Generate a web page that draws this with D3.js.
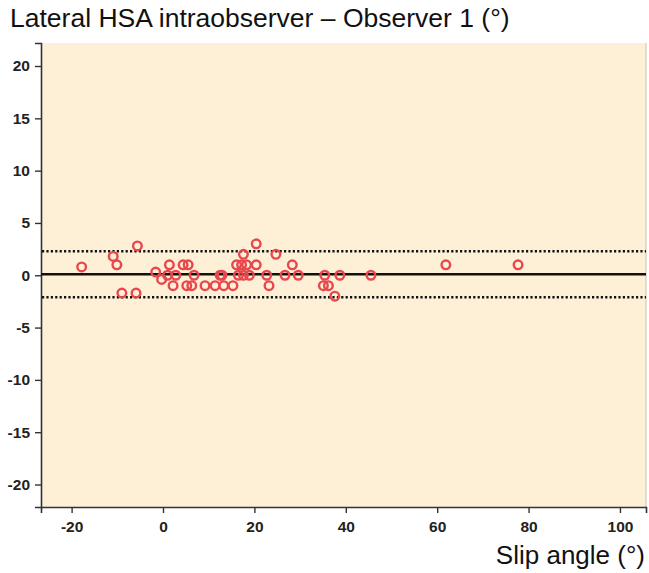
<!DOCTYPE html>
<html>
<head>
<meta charset="utf-8">
<script src="https://cdn.jsdelivr.net/npm/d3@7"></script>
<style>
  body { margin: 0; background: #fff; }
  svg { display: block; }
</style>
</head>
<body>
<div id="chart"></div>
<script>
// slip angle (x) vs difference between measurements (y)
var slipAngle = [-17.8, -10.9, -10.1, -5.6, -9.0, -5.9, -1.6, -0.3, 1.4, 1.0, 2.8, 2.2,
  4.4, 5.5, 5.2, 6.3, 6.8, 9.2, 11.4, 12.5, 12.9, 13.3, 15.3, 16.1, 17.2, 18.3,
  16.5, 17.6, 18.9, 17.6, 20.4, 20.4, 22.7, 23.2, 24.7, 26.7, 28.3, 29.6, 35.4,
  35.1, 36.2, 37.6, 38.7, 45.5, 61.9, 77.7];
var difference = [0.8, 1.8, 1.0, 2.8, -1.7, -1.7, 0.3, -0.4, 1.0, 0.0, 0.0, -1.0,
  1.0, 1.0, -1.0, -1.0, 0.0, -1.0, -1.0, 0.0, 0.0, -1.0, -1.0, 1.0, 1.0, 1.0,
  0.0, 0.0, 0.0, 2.0, 3.0, 1.0, 0.0, -1.0, 2.0, 0.0, 1.0, 0.0, 0.0,
  -1.0, -1.0, -2.0, 0.0, 0.0, 1.0, 1.0];

var meanDiff = 0.1;
var upperLimit = 2.3;
var lowerLimit = -2.1;

var xTicks = [-20, 0, 20, 40, 60, 80, 100];
var yTicks = [-20, -15, -10, -5, 0, 5, 10, 15, 20];

var width = 649, height = 573;
var margin = {top: 43, right: 3, bottom: 66, left: 41};

var svg = d3.select("#chart").append("svg")
  .attr("width", width)
  .attr("height", height)
  .style("font-family", "Liberation Sans, Arial, sans-serif");

var x = d3.scaleLinear()
  .domain([-26.7, 105.7])
  .range([margin.left, width - margin.right]);

var y = d3.scaleLinear()
  .domain([-22.15, 22.2])
  .range([height - margin.bottom, margin.top]);

// plain hyphen labels like the original
var plain = function(d) { return String(d); };

// plot background
svg.append("rect")
  .attr("x", margin.left)
  .attr("y", margin.top)
  .attr("width", width - margin.right - margin.left)
  .attr("height", height - margin.bottom - margin.top)
  .style("fill", "#fdf0d6")
  .style("stroke", "none");

svg.append("line")
  .attr("x1", width - margin.right).attr("x2", width - margin.right)
  .attr("y1", margin.top).attr("y2", height - margin.bottom)
  .style("stroke", "#c8c0b0")
  .style("stroke-width", 1);

// axes
var yAxis = svg.append("g")
  .attr("transform", "translate(" + margin.left + ",0)")
  .call(d3.axisLeft(y).tickValues(yTicks).tickFormat(plain).tickSize(6).tickPadding(5));

var xAxis = svg.append("g")
  .attr("transform", "translate(0," + (height - margin.bottom) + ")")
  .call(d3.axisBottom(x).tickValues(xTicks).tickFormat(plain).tickSize(6).tickPadding(8));

[xAxis, yAxis].forEach(function(g) {
  g.select(".domain").style("stroke", "#333").style("stroke-width", 1.6);
  g.selectAll(".tick line").style("stroke", "#333").style("stroke-width", 1.4);
  g.selectAll(".tick text")
    .style("font-size", "15.5px")
    .style("font-weight", "bold")
    .style("fill", "#222")
    .style("font-family", "Liberation Sans, Arial, sans-serif");
});

// reference lines
svg.append("line")
  .attr("x1", margin.left).attr("x2", width - margin.right)
  .attr("y1", y(meanDiff)).attr("y2", y(meanDiff))
  .style("stroke", "#111")
  .style("stroke-width", 2.6);

[upperLimit, lowerLimit].forEach(function(v) {
  svg.append("line")
    .attr("x1", margin.left + 1).attr("x2", width - margin.right)
    .attr("y1", y(v)).attr("y2", y(v))
    .style("stroke", "#111")
    .style("stroke-width", 2.6)
    .style("stroke-dasharray", "2.2,2.2");
});

// points
svg.selectAll("circle.pt")
  .data(slipAngle)
  .enter().append("circle")
    .attr("class", "pt")
    .attr("cx", function(d) { return x(d); })
    .attr("cy", function(d, i) { return y(difference[i]); })
    .attr("r", 4.3)
    .style("fill", "none")
    .style("stroke", "#e8474e")
    .style("stroke-width", 2.4);

// titles
svg.append("text")
  .attr("x", 10)
  .attr("y", 27)
  .style("font-size", "26.5px")
  .style("fill", "#111")
  .text("Lateral HSA intraobserver \u2013 Observer 1 (\u00b0)");

svg.append("text")
  .attr("x", 645)
  .attr("y", 564)
  .attr("text-anchor", "end")
  .style("font-size", "26px")
  .style("fill", "#111")
  .text("Slip angle (\u00b0)");
</script>
</body>
</html>
